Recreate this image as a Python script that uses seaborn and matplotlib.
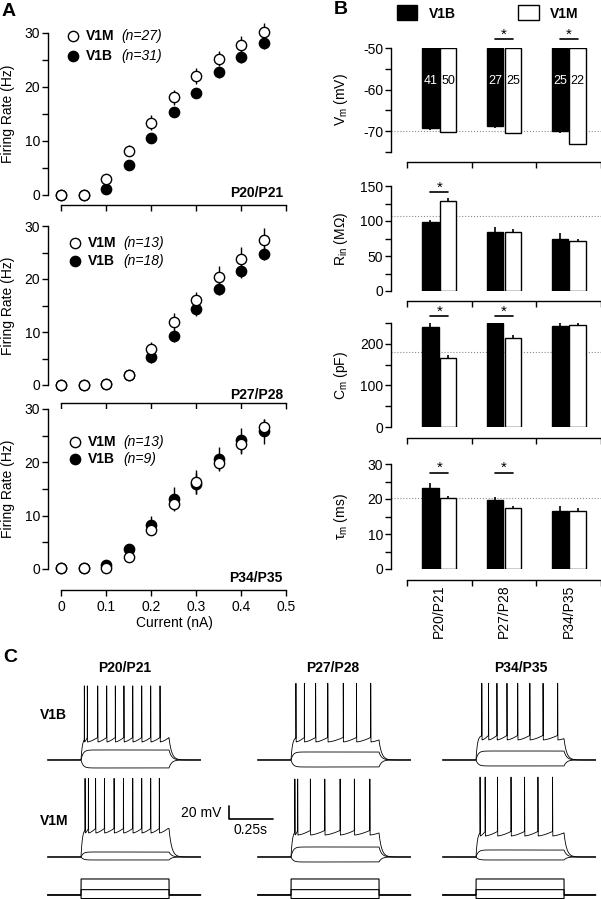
import numpy as np
import pandas as pd
import seaborn as sns
import matplotlib.pyplot as plt
from matplotlib.patches import Patch
from matplotlib.ticker import MultipleLocator

# ---- panel A: firing rate vs injected current ----
current = [0, 0.05, 0.1, 0.15, 0.2, 0.25, 0.3, 0.35, 0.4, 0.45]
ages = ['P20/P21', 'P27/P28', 'P34/P35']
n_v1m = [27, 13, 13]
n_v1b = [31, 18, 9]

rate_v1m_p20 = [0, 0, 2.9, 8.2, 13.4, 18.1, 22.0, 25.2, 27.7, 30.2]
err_v1m_p20 = [0, 0, 0.5, 1.0, 1.4, 1.4, 1.5, 1.4, 1.8, 1.7]
rate_v1b_p20 = [0, 0, 1.1, 5.6, 10.6, 15.3, 18.9, 22.7, 25.5, 28.1]
err_v1b_p20 = [0, 0, 0.4, 0.6, 0.8, 0.9, 0.9, 1.0, 1.1, 1.1]

rate_v1m_p27 = [0, 0, 0.2, 1.9, 6.8, 11.9, 16.0, 20.4, 23.8, 27.4]
err_v1m_p27 = [0, 0, 0.2, 0.5, 1.4, 1.6, 1.6, 2.0, 2.2, 2.2]
rate_v1b_p27 = [0, 0, 0.2, 1.8, 5.2, 9.3, 14.3, 18.2, 21.5, 24.8]
err_v1b_p27 = [0, 0, 0, 0.3, 1.0, 1.2, 1.2, 1.2, 1.3, 1.3]

rate_v1m_p34 = [0.2, 0.2, 0.2, 2.3, 7.3, 12.2, 16.3, 19.9, 23.4, 26.6]
err_v1m_p34 = [0, 0, 0.3, 0.5, 0.8, 1.0, 2.2, 1.4, 1.8, 1.5]
rate_v1b_p34 = [0.2, 0.2, 0.8, 3.8, 8.2, 13.1, 16.0, 20.6, 24.1, 25.8]
err_v1b_p34 = [0, 0, 0.4, 0.9, 1.7, 2.2, 2.0, 2.3, 2.4, 2.3]

# ---- panel B: passive properties ----
vm_v1b = [-69.3, -68.8, -70.0]
vm_v1b_err = [0.4, 0.4, 0.4]
vm_v1m = [-70.2, -70.4, -73.1]
vm_v1m_err = [0.3, 0.3, 0.3]
cells_v1b = [41, 27, 25]
cells_v1m = [50, 25, 22]

rin_v1b = [99, 85, 75]
rin_v1b_err = [3, 6, 7.5]
rin_v1m = [128, 85, 71]
rin_v1m_err = [4.5, 3, 4]

cm_v1b = [240, 251, 242]
cm_v1b_err = [10, 15, 14]
cm_v1m = [166, 213, 244]
cm_v1m_err = [6, 7, 10]

tau_v1b = [23.1, 19.8, 16.7]
tau_v1b_err = [1.4, 0.8, 1.3]
tau_v1m = [20.2, 17.4, 16.7]
tau_v1m_err = [0.7, 0.5, 0.7]

ref_levels = [-70, 107, 181, 20.2]
signif_vm = [False, True, True]
signif_rin = [True, False, False]
signif_cm = [True, True, False]
signif_tau = [True, True, False]

# ---- panel C: example traces (mV relative to rest, spike times in s) ----
hyper_v1b = [-12.3, -10.8, -9.2]
sub_v1b = [15.4, 12.3, 13.8]
trough_v1b = [27.7, 27.7, 30.8]
peak_v1b = [114, 118, 118]
spikes_v1b = [
    [0.019, 0.036, 0.095, 0.146, 0.195, 0.244, 0.294, 0.345, 0.396, 0.449],
    [0.028, 0.076, 0.140, 0.209, 0.297, 0.372, 0.453],
    [0.033, 0.071, 0.119, 0.176, 0.237, 0.306, 0.381, 0.464],
]
hyper_v1m = [-4.6, -7.7, -4.6]
sub_v1m = [7.7, 15.4, 10.8]
trough_v1m = [36.9, 33.8, 32.3]
peak_v1m = [121, 120, 123]
spikes_v1m = [
    [0.023, 0.042, 0.083, 0.133, 0.188, 0.241, 0.294, 0.345, 0.396, 0.445],
    [0.022, 0.038, 0.110, 0.192, 0.279, 0.360, 0.448],
    [0.023, 0.052, 0.122, 0.199, 0.276, 0.352, 0.435],
]
stim_steps = [-0.1, 0.15, 0.45]

W, H = 601, 899
sns.set_style('ticks', {'axes.edgecolor': 'black', 'xtick.color': 'black',
                        'ytick.color': 'black', 'text.color': 'black',
                        'axes.labelcolor': 'black'})
plt.rcParams['font.family'] = ['Liberation Sans', 'DejaVu Sans']
plt.rcParams['mathtext.fontset'] = 'custom'
plt.rcParams['mathtext.rm'] = 'Liberation Sans'
plt.rcParams['mathtext.it'] = 'Liberation Sans:italic'
plt.rcParams['mathtext.bf'] = 'Liberation Sans:bold'
plt.rcParams['font.size'] = 10
plt.rcParams['axes.linewidth'] = 1
plt.rcParams['axes.unicode_minus'] = False

fig = plt.figure(figsize=(W / 100, H / 100), dpi=100)


def px_axes(left, top, right, bottom):
    return fig.add_axes([left / W, 1 - bottom / H, (right - left) / W, (bottom - top) / H])


def base_style(ax, offset_px):
    sns.despine(ax=ax)
    ax.spines['bottom'].set_position(('outward', offset_px * 0.72))
    ax.tick_params(which='both', direction='out', length=4, width=1, labelsize=10)
    ax.tick_params(axis='y', pad=1.5)
    ax.tick_params(axis='x', pad=3)


# panel A
a_rows = [
    (rate_v1m_p20, err_v1m_p20, rate_v1b_p20, err_v1b_p20, 33, 195, 10),
    (rate_v1m_p27, err_v1m_p27, rate_v1b_p27, err_v1b_p27, 226, 385, 18),
    (rate_v1m_p34, err_v1m_p34, rate_v1b_p34, err_v1b_p34, 409, 569, 21),
]
for i, (v1m, e1m, v1b, e1b, top, bottom, off) in enumerate(a_rows):
    ax = px_axes(48, top, 286, bottom)
    ax.errorbar(current, v1b, yerr=e1b, fmt='none', ecolor='black', elinewidth=1,
                capsize=0, zorder=2, clip_on=False)
    sns.scatterplot(x=current, y=v1b, ax=ax, color='black', edgecolor='black',
                    s=55, linewidth=1, zorder=3, clip_on=False)
    ax.errorbar(current, v1m, yerr=e1m, fmt='none', ecolor='black', elinewidth=1,
                capsize=0, zorder=4, clip_on=False)
    sns.scatterplot(x=current, y=v1m, ax=ax, color='white', edgecolor='black',
                    s=55, linewidth=1, zorder=5, clip_on=False)
    ax.set_xlim(-0.03, 0.5)
    ax.set_ylim(0, 30)
    base_style(ax, off)
    ax.spines['bottom'].set_bounds(0, 0.5)
    ax.set_xticks([0, 0.1, 0.2, 0.3, 0.4, 0.5])
    ax.set_yticks([0, 10, 20, 30])
    ax.yaxis.set_minor_locator(MultipleLocator(5))
    ax.set_ylabel('Firing Rate (Hz)', fontsize=10)
    ax.yaxis.set_label_coords((15 - 48) / 238, 0.5)
    if i == 2:
        ax.set_xticklabels(['0', '0.1', '0.2', '0.3', '0.4', '0.5'])
        ax.set_xlabel('Current (nA)', fontsize=10)
        ax.xaxis.set_label_coords((174 - 48) / 238, (569 - 616) / 160)
    else:
        ax.set_xticklabels([])
        ax.set_xlabel('')

# panel B
b_specs = [
    (vm_v1b, vm_v1b_err, vm_v1m, vm_v1m_err, signif_vm, 'V$_\\mathrm{m}$ (mV)',
     (-75, -50), 10, 5, 48, 152, 10, -47.75, -46.8),
    (rin_v1b, rin_v1b_err, rin_v1m, rin_v1m_err, signif_rin, 'R$_\\mathrm{in}$ (MΩ)',
     (0, 150), 50, 25, 186, 291, 10, 142, 148),
    (cm_v1b, cm_v1b_err, cm_v1m, cm_v1m_err, signif_cm, 'C$_\\mathrm{m}$ (pF)',
     (0, 250), 100, 50, 323, 427, 11, 267, 278),
    (tau_v1b, tau_v1b_err, tau_v1m, tau_v1m_err, signif_tau, 'τ$_\\mathrm{m}$ (ms)',
     (0, 30), 10, 5, 464, 569, 11, 27.5, 28.8),
]
half = 0.1375
xpos = np.arange(3)
for k, (b, be, m, me, sig, lab, ylim, major, minor, top, bottom, off, yline, ystar) in enumerate(b_specs):
    ax = px_axes(391, top, 601, bottom)
    df = pd.DataFrame({'age': ages * 2, 'group': ['V1B'] * 3 + ['V1M'] * 3, 'value': b + m})
    sns.barplot(data=df, x='age', y='value', hue='group', order=ages,
                hue_order=['V1B', 'V1M'], palette=['black', 'white'],
                edgecolor='black', linewidth=1, width=0.55, gap=0.08,
                errorbar=None, legend=False, ax=ax, zorder=2)
    if k == 0:
        # membrane potential bars hang down from -50 mV
        for p in ax.patches:
            h = p.get_y() + p.get_height()
            p.set_y(-50)
            p.set_height(h + 50)
        low = [be, [0] * 3]
        lowm = [me, [0] * 3]
        for j in range(3):
            ax.text(j - half, -57.9, str(cells_v1b[j]), color='white', ha='center',
                    va='center', fontsize=9)
            ax.text(j + half, -57.9, str(cells_v1m[j]), color='black', ha='center',
                    va='center', fontsize=9)
    else:
        low = [[0] * 3, be]
        lowm = [[0] * 3, me]
    ax.errorbar(xpos - half, b, yerr=low, fmt='none', ecolor='black', elinewidth=1.2,
                capsize=0, zorder=1)
    ax.errorbar(xpos + half, m, yerr=lowm, fmt='none', ecolor='black', elinewidth=1.2,
                capsize=0, zorder=1)
    ax.axhline(ref_levels[k], color='0.55', ls=':', lw=0.8, zorder=0.5)
    for j in range(3):
        if sig[j]:
            ax.plot([j - half, j + half], [yline, yline], color='black', lw=1.2,
                    clip_on=False)
            ax.text(j, ystar, '*', ha='center', va='center', fontsize=11)
    ax.set_xlim(-0.747, 2.5)
    ax.set_ylim(*ylim)
    base_style(ax, off)
    ax.spines['bottom'].set_bounds(-0.5, 2.5)
    ax.set_xticks([-0.5, 0.5, 1.5, 2.5])
    ax.set_xticklabels([])
    ax.set_xticks([0, 1, 2], minor=True)
    ax.tick_params(axis='x', which='minor', length=0)
    if k == 3:
        ax.set_xticklabels(ages, minor=True, rotation=90, fontsize=10)
    else:
        ax.set_xticklabels([], minor=True)
    ax.yaxis.set_major_locator(MultipleLocator(major))
    ax.yaxis.set_minor_locator(MultipleLocator(minor))
    ax.set_xlabel('')
    ax.set_ylabel(lab, fontsize=10)
    ax.yaxis.set_label_coords((350 - 391) / 210, 0.5)

fig.legend(handles=[Patch(facecolor='black', edgecolor='black', lw=1),
                    Patch(facecolor='white', edgecolor='black', lw=1)],
           labels=['V1B', 'V1M'], loc='center left', bbox_to_anchor=(397 / W, 1 - 13 / H),
           ncol=2, frameon=False, prop={'weight': 'bold', 'size': 10},
           handlelength=1.45, handleheight=1.25, handletextpad=0.85,
           columnspacing=4.5, borderpad=0, borderaxespad=0)

# panel C
t = np.arange(-0.19, 0.68, 0.0001)


def make_trace(step, spikes=None, trough=0.0, peak=0.0, ramp=7.0, base=-70.0):
    v = np.full(t.shape, base)
    during = (t >= 0) & (t <= 0.5)
    td = t[during]
    if spikes is None:
        v[during] = base + step * (1 - np.exp(-td / 0.012))
    else:
        s = list(spikes)
        thr = trough + ramp
        curve = thr * (1 - np.exp(-td / 0.008))
        isi = list(np.diff(s)) + [s[-1] - s[-2]]
        for si, d in zip(s, isi):
            msk = td >= si
            frac = np.clip((td[msk] - si) / d, 0, 1)
            curve[msk] = trough + ramp * frac ** 1.5
        v[during] = base + curve
        for si in s:
            rise = base + peak - (peak - thr) * (si - t) / 0.0006
            fall = base + peak - (peak - trough) * (t - si) / 0.0015
            kern = np.where(t < si, rise, fall)
            win = (t > si - 0.0006) & (t < si + 0.0015)
            v[win] = np.maximum(v[win], kern[win])
    end = v[during][-1] - base
    after = t > 0.5
    v[after] = base + end * np.exp(-(t[after] - 0.5) / 0.015)
    return v


onsets = [81, 291, 476]
for c, on in enumerate(onsets):
    left, right = on - 0.2 * 176, on + 0.7 * 176
    rows = [
        (676, 775, (-93.1, 59.2), hyper_v1b[c], sub_v1b[c], spikes_v1b[c], trough_v1b[c], peak_v1b[c]),
        (775, 872, (-93.1, 56.2), hyper_v1m[c], sub_v1m[c], spikes_v1m[c], trough_v1m[c], peak_v1m[c]),
    ]
    for r, (top, bottom, yl, hy, sb, sp, tr, pk) in enumerate(rows):
        ax = px_axes(left, top, right, bottom)
        for v in (make_trace(hy), make_trace(sb), make_trace(0, sp, tr, pk)):
            ax.plot(t, v, color='black', lw=0.6, clip_on=False)
        ax.set_xlim(-0.2, 0.7)
        ax.set_ylim(*yl)
        ax.axis('off')
        if c == 0 and r == 1:
            ax.plot([0.84, 0.84, 1.09], [8.5, -11.5, -11.5], color='black', lw=1.2,
                    clip_on=False)
            ax.text(0.80, -2.3, '20 mV', ha='right', va='center', fontsize=10)
            ax.text(0.965, -17, '0.25s', ha='center', va='top', fontsize=10)
    ax = px_axes(left, 874, right, 899)
    for amp in stim_steps:
        ax.plot(t, np.where((t >= 0) & (t <= 0.5), amp, 0), color='black', lw=0.8,
                clip_on=False)
    ax.set_xlim(-0.2, 0.7)
    ax.set_ylim(-0.113, 0.59)
    ax.axis('off')

# overlay for panel letters, legends and labels (pixel coordinates)
ov = fig.add_axes([0, 0, 1, 1])
ov.set_xlim(0, W)
ov.set_ylim(H, 0)
ov.axis('off')
for txt, x, y in [('A', 2, 11), ('B', 334, 9), ('C', 3, 658)]:
    ov.text(x, y, txt, fontsize=14, fontweight='bold', ha='left', va='center')

leg_rows = [(73, 36, 56), (75, 243, 261), (75, 442, 459)]
age_label_y = [193, 395, 578]
for i, (mx, y1, y2) in enumerate(leg_rows):
    ov.scatter([mx], [y1], s=55, facecolor='white', edgecolor='black', linewidth=1)
    ov.scatter([mx], [y2], s=55, facecolor='black', edgecolor='black', linewidth=1)
    ov.text(mx + 13, y1, 'V1M', fontweight='bold', ha='left', va='center')
    ov.text(mx + 48, y1, f'(n={n_v1m[i]})', fontstyle='italic', ha='left', va='center')
    ov.text(mx + 13, y2, 'V1B', fontweight='bold', ha='left', va='center')
    ov.text(mx + 48, y2, f'(n={n_v1b[i]})', fontstyle='italic', ha='left', va='center')
    ov.text(283, age_label_y[i], ages[i], fontweight='bold', ha='right', va='center')

for x, age in zip([125, 333, 521], ages):
    ov.text(x, 668, age, fontweight='bold', ha='center', va='center')
ov.text(40, 715, 'V1B', fontweight='bold', ha='left', va='center')
ov.text(40, 821, 'V1M', fontweight='bold', ha='left', va='center')

fig.savefig('out.png', dpi=100)
